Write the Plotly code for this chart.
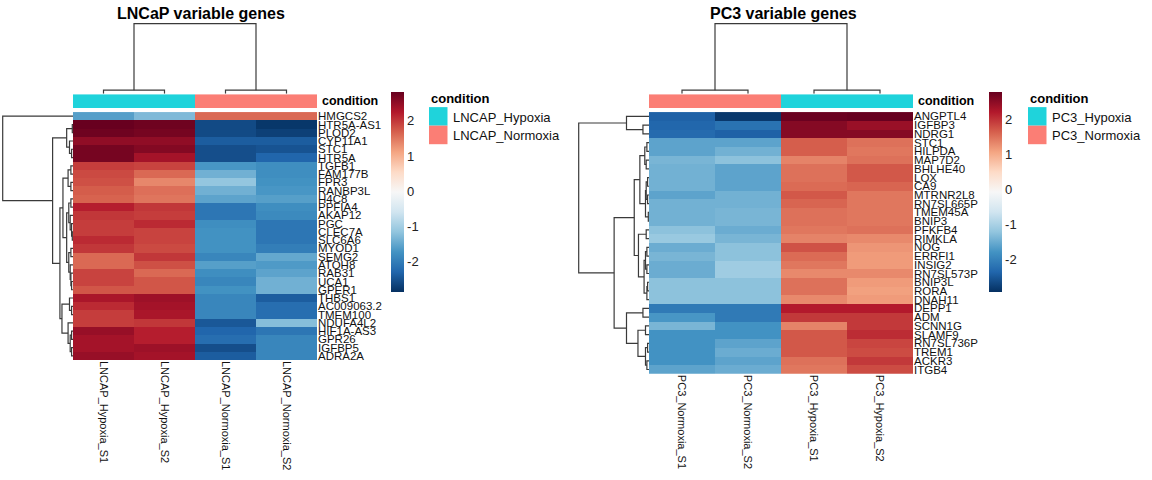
import plotly.graph_objects as go

W, H = 1152, 480
FONT = "Liberation Sans, Arial, sans-serif"

# ---------------- data ----------------
lncap_genes = ["HMGCS2", "HTR5A-AS1", "PLOD2", "CYP11A1", "STC1", "HTR5A", "TGFB1", "FAM177B",
               "FPR3", "RANBP3L", "H4C8", "PPFIA4", "AKAP12", "PGC", "CLEC7A", "SLC6A6", "MYOD1",
               "SEMG2", "ATOH8", "RAB31", "UCA1", "GPER1", "THBS1", "AC009063.2", "TMEM100",
               "NDUFA4L2", "HIF1A-AS3", "GPR26", "IGFBP5", "ADRA2A"]
lncap_samples = ["LNCAP_Hypoxia_S1", "LNCAP_Hypoxia_S2", "LNCAP_Normoxia_S1", "LNCAP_Normoxia_S2"]
lncap_condition = ["LNCAP_Hypoxia", "LNCAP_Hypoxia", "LNCAP_Normoxia", "LNCAP_Normoxia"]
lncap_values = [
    [-1.6, -1.3, 1.6, 1.6],
    [2.8, 2.75, -2.6, -2.8],
    [2.75, 2.7, -2.6, -2.7],
    [2.5, 2.5, -2.4, -2.4],
    [2.7, 2.6, -2.55, -2.5],
    [2.7, 2.35, -2.55, -2.3],
    [1.95, 1.9, -1.7, -1.8],
    [1.85, 1.6, -1.4, -1.8],
    [1.8, 1.35, -1.15, -1.75],
    [1.7, 1.55, -1.4, -1.7],
    [1.65, 1.5, -1.55, -1.6],
    [2.2, 2.0, -2.1, -1.8],
    [2.0, 1.95, -2.1, -1.85],
    [1.95, 2.1, -1.8, -2.1],
    [1.95, 1.9, -1.75, -2.1],
    [2.1, 1.9, -1.75, -2.1],
    [2.0, 1.85, -1.75, -2.0],
    [1.6, 2.0, -1.9, -1.5],
    [1.6, 1.8, -1.6, -1.65],
    [1.9, 1.6, -1.8, -1.55],
    [1.9, 1.75, -1.9, -1.4],
    [1.75, 1.75, -1.75, -1.4],
    [2.3, 2.4, -1.9, -2.4],
    [2.1, 2.35, -1.9, -2.2],
    [1.95, 2.3, -1.9, -2.2],
    [1.95, 2.0, -2.45, -1.25],
    [2.45, 2.2, -2.3, -2.1],
    [2.35, 2.2, -2.2, -1.9],
    [2.35, 2.4, -2.55, -1.9],
    [2.45, 2.35, -2.4, -1.9],
]

pc3_genes = ["ANGPTL4", "IGFBP3", "NDRG1", "STC1", "HILPDA", "MAP7D2", "BHLHE40", "LOX", "CA9",
             "MTRNR2L8", "RN7SL665P", "TMEM45A", "BNIP3", "PFKFB4", "RIMKLA", "NOG", "ERRFI1",
             "INSIG2", "RN7SL573P", "BNIP3L", "RORA", "DNAH11", "DEPP1", "ADM", "SCNN1G",
             "SLAMF9", "RN7SL736P", "TREM1", "ACKR3", "ITGB4"]
pc3_samples = ["PC3_Normoxia_S1", "PC3_Normoxia_S2", "PC3_Hypoxia_S1", "PC3_Hypoxia_S2"]
pc3_condition = ["PC3_Normoxia", "PC3_Normoxia", "PC3_Hypoxia", "PC3_Hypoxia"]
pc3_values = [
    [-2.4, -2.85, 2.75, 2.8],
    [-2.35, -2.2, 2.55, 2.4],
    [-2.3, -2.4, 2.55, 2.55],
    [-1.6, -1.6, 1.65, 1.5],
    [-1.6, -1.45, 1.65, 1.45],
    [-1.4, -1.25, 1.35, 1.5],
    [-1.45, -1.6, 1.5, 1.7],
    [-1.45, -1.6, 1.5, 1.7],
    [-1.45, -1.6, 1.55, 1.6],
    [-1.6, -1.45, 1.7, 1.45],
    [-1.45, -1.45, 1.6, 1.45],
    [-1.45, -1.4, 1.5, 1.45],
    [-1.45, -1.4, 1.5, 1.45],
    [-1.25, -1.5, 1.45, 1.5],
    [-1.15, -1.4, 1.35, 1.3],
    [-1.5, -1.25, 1.75, 1.2],
    [-1.4, -1.25, 1.55, 1.15],
    [-1.5, -1.1, 1.45, 1.15],
    [-1.5, -1.1, 1.3, 1.3],
    [-1.25, -1.25, 1.5, 1.15],
    [-1.25, -1.25, 1.5, 1.1],
    [-1.25, -1.25, 1.3, 1.15],
    [-2.1, -2.1, 2.2, 2.2],
    [-1.75, -2.1, 1.95, 1.95],
    [-1.4, -1.8, 1.35, 1.95],
    [-1.8, -1.8, 1.7, 2.05],
    [-1.8, -1.6, 1.7, 1.85],
    [-1.8, -1.5, 1.7, 1.8],
    [-1.8, -1.6, 1.5, 1.95],
    [-1.6, -1.5, 1.45, 1.8],
]

# dendrograms: (left, right, merge height); leaves are row/column indices
lncap_row_tree = (0, (
    ((1, 2, 0.01), (3, (4, 5, 0.02), 0.05), 0.09),
    (
        (((6, 7, 0.03), (8, 9, 0.03), 0.07),
         (((10, 11, 0.03), (12, (13, (14, 15, 0.01), 0.02), 0.04), 0.06),
          ((16, 17, 0.03), (18, (19, (20, 21, 0.02), 0.03), 0.04), 0.06), 0.09), 0.143),
        ((22, (23, 24, 0.02), 0.05), (25, ((26, 27, 0.02), (28, 29, 0.02), 0.04), 0.07), 0.157),
        0.186),
    0.29), 1.0)
lncap_col_tree = ((0, 1, 0.05), (2, 3, 0.05), 1.0)

pc3_row_tree = (
    (0, (1, 2, 0.086), 0.32),
    (
        (
            (((3, 4, 0.03), (5, 6, 0.04), 0.06), (((7, 8, 0.02), (9, 10, 0.02), 0.04), (11, 12, 0.01), 0.05), 0.13),
            ((13, 14, 0.04), (((15, 16, 0.03), (17, 18, 0.03), 0.05), ((19, 20, 0.02), 21, 0.03), 0.07), 0.15),
            0.21),
        ((22, 23, 0.086), ((24, 25, 0.05), ((26, 27, 0.02), (28, 29, 0.03), 0.05), 0.157), 0.32),
        0.496),
    1.0)
pc3_col_tree = ((0, 1, 0.05), (2, 3, 0.05), 1.0)

cond_colors = {"LNCAP_Hypoxia": "#1FD3DB", "LNCAP_Normoxia": "#FB7E75",
               "PC3_Hypoxia": "#1FD3DB", "PC3_Normoxia": "#FB7E75"}

RDBU = ["#053061", "#2166AC", "#4393C3", "#92C5DE", "#D1E5F0", "#F7F7F7",
        "#FDDBC7", "#F4A582", "#D6604D", "#B2182B", "#67001F"]
colorscale = [[i / (len(RDBU) - 1), c] for i, c in enumerate(RDBU)]


def dx(x0, x1):
    return [x0 / W, x1 / W]


def dy(y0, y1):
    return [1 - y1 / H, 1 - y0 / H]


def walk(node):
    if isinstance(node, int):
        return float(node), 0.0, []
    l, r, h = node
    pl, hl, sl = walk(l)
    pr, hr, sr = walk(r)
    seg = [(pl, hl), (pl, h), (pr, h), (pr, hr)]
    return (pl + pr) / 2, h, sl + sr + [seg]


def dendro_xy(tree, horizontal):
    _, _, segs = walk(tree)
    xs, ys = [], []
    for seg in segs:
        for p, h in seg:
            if horizontal:
                xs.append(h); ys.append(p)
            else:
                xs.append(p); ys.append(h)
        xs.append(None); ys.append(None)
    return xs, ys


fig = go.Figure()
shapes = []
annotations = []


def panel(k, genes, samples, conds, values, row_tree, col_tree, hx0, hx1, hy1, zmin, zmax,
          cbx, title, title_x, legx):
    n = len(genes)
    ax = [f"{k+i}" if k + i > 1 else "" for i in range(4)]
    xa = ["x" + a for a in ax]
    ya = ["y" + a for a in ax]
    lay = ["xaxis" + a for a in ax]
    lay_y = ["yaxis" + a for a in ax]
    # heatmap
    fig.add_trace(go.Heatmap(
        z=values, x=list(range(len(samples))), y=list(range(n)),
        colorscale=colorscale, zmin=zmin, zmax=zmax, xaxis=xa[0], yaxis=ya[0],
        hoverinfo="skip",
        colorbar=dict(x=cbx / W, xanchor="left", y=1 - 192 / H, yanchor="middle",
                      len=200, lenmode="pixels", thickness=13, thicknessmode="pixels",
                      outlinewidth=0, xpad=0, ypad=0, ticks="",
                      tickvals=[-2, -1, 0, 1, 2], ticktext=["-2", "-1", "0", "1", "2"],
                      tickfont=dict(size=13, family=FONT, color="#222"))))
    # annotation bar
    levels = sorted(set(conds))
    zc = [[levels.index(c) for c in conds]]
    cs = [[0, cond_colors[levels[0]]], [0.5, cond_colors[levels[0]]],
          [0.5, cond_colors[levels[1]]], [1, cond_colors[levels[1]]]]
    fig.add_trace(go.Heatmap(z=zc, x=list(range(len(samples))), y=[0], colorscale=cs,
                             zmin=0, zmax=1, showscale=False, xaxis=xa[1], yaxis=ya[1],
                             hoverinfo="skip"))
    # column dendrogram
    cx, cy = dendro_xy(col_tree, horizontal=False)
    fig.add_trace(go.Scatter(x=cx, y=cy, mode="lines", line=dict(color="#3a3a3a", width=1.2),
                             xaxis=xa[2], yaxis=ya[2], hoverinfo="skip", showlegend=False))
    # row dendrogram
    rx, ry = dendro_xy(row_tree, horizontal=True)
    fig.add_trace(go.Scatter(x=rx, y=ry, mode="lines", line=dict(color="#3a3a3a", width=1.2),
                             xaxis=xa[3], yaxis=ya[3], hoverinfo="skip", showlegend=False))

    hidden = dict(visible=False, showgrid=False, zeroline=False, fixedrange=True)
    fig.layout[lay[0]] = dict(domain=dx(hx0, hx1), range=[-0.5, len(samples) - 0.5],
                              tickmode="array", tickvals=list(range(len(samples))),
                              ticktext=samples, tickangle=90, showgrid=False, zeroline=False,
                              ticks="", showline=False, anchor=ya[0],
                              tickfont=dict(size=11, family=FONT, color="#111"))
    fig.layout[lay_y[0]] = dict(domain=dy(111, hy1), range=[n - 0.5, -0.5], side="right",
                                tickmode="array", tickvals=list(range(n)), ticktext=genes,
                                showgrid=False, zeroline=False, ticks="", showline=False,
                                anchor=xa[0],
                                tickfont=dict(size=11.5, family=FONT, color="#111"))
    fig.layout[lay[1]] = dict(domain=dx(hx0, hx1), range=[-0.5, len(samples) - 0.5],
                              anchor=ya[1], **hidden)
    fig.layout[lay_y[1]] = dict(domain=dy(93, 107), range=[-0.5, 0.5], anchor=xa[1], **hidden)
    fig.layout[lay[2]] = dict(domain=dx(hx0, hx1), range=[-0.5, len(samples) - 0.5],
                              anchor=ya[2], **hidden)
    fig.layout[lay_y[2]] = dict(domain=dy(21, 92.5), range=[0, 1.01], anchor=xa[2], **hidden)
    fig.layout[lay[3]] = dict(domain=dx(hx0 - 71, hx0), range=[1.01, 0], anchor=ya[3], **hidden)
    fig.layout[lay_y[3]] = dict(domain=dy(111, hy1), range=[n - 0.5, -0.5], anchor=xa[3],
                                **hidden)

    annotations.append(dict(text="<b>" + title + "</b>", x=title_x / W, y=1 - 12 / H,
                            xref="paper", yref="paper", xanchor="center", yanchor="middle",
                            showarrow=False, font=dict(size=16, family=FONT, color="#000")))
    annotations.append(dict(text="<b>condition</b>", x=(hx1 + 3) / W, y=1 - 100 / H,
                            xref="paper", yref="paper", xanchor="left", yanchor="middle",
                            showarrow=False, font=dict(size=12.5, family=FONT, color="#000")))
    # legend
    annotations.append(dict(text="<b>condition</b>", x=legx / W, y=1 - 97 / H,
                            xref="paper", yref="paper", xanchor="left", yanchor="middle",
                            showarrow=False, font=dict(size=13, family=FONT, color="#000")))
    for i, lev in enumerate(levels):
        y0 = 106 + i * 18.7
        shapes.append(dict(type="rect", xref="paper", yref="paper",
                           x0=legx / W, x1=(legx + 18.5) / W,
                           y0=1 - (y0 + 18.7) / H, y1=1 - y0 / H,
                           fillcolor=cond_colors[lev], line=dict(width=0)))
        annotations.append(dict(text=lev, x=(legx + 22) / W, y=1 - (y0 + 10) / H,
                                xref="paper", yref="paper", xanchor="left", yanchor="middle",
                                showarrow=False, font=dict(size=13, family=FONT, color="#111")))


panel(1, lncap_genes, lncap_samples, lncap_condition, lncap_values, lncap_row_tree,
      lncap_col_tree, 73, 317, 361, -2.87, 2.81, 391, "LNCaP variable genes", 201, 429)
panel(5, pc3_genes, pc3_samples, pc3_condition, pc3_values, pc3_row_tree,
      pc3_col_tree, 649, 913, 375, -2.93, 2.78, 989, "PC3 variable genes", 783, 1028)

fig.update_layout(width=W, height=H, margin=dict(l=0, r=0, t=0, b=0),
                  paper_bgcolor="white", plot_bgcolor="white", showlegend=False,
                  shapes=shapes, annotations=annotations,
                  font=dict(family=FONT))
fig.write_html("out.html", config={"displayModeBar": False, "staticPlot": True},
               post_script="document.body.style.margin='0px';document.body.style.overflow='hidden';")
